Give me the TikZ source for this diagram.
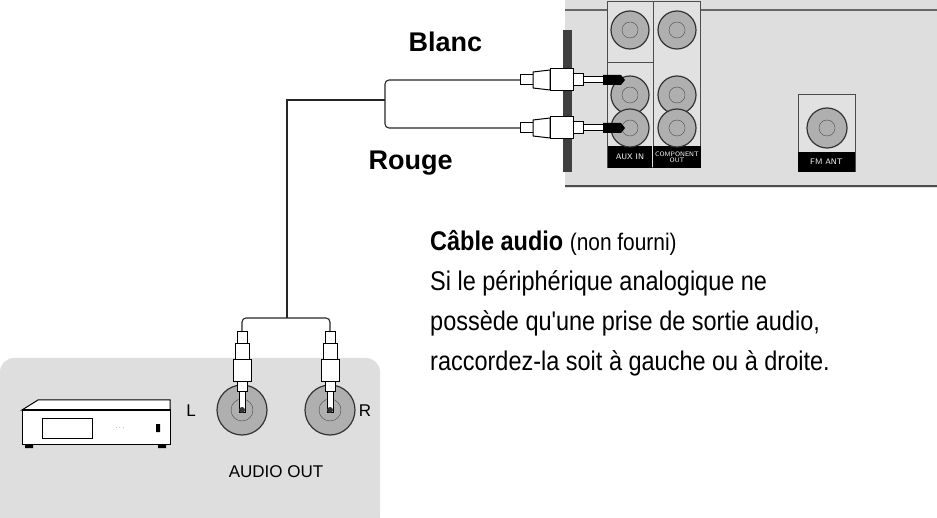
\documentclass[tikz,border=0pt]{standalone}
\usepackage{fontspec}
\setmainfont{Liberation Sans}
\newfontfamily\narrowfont[FakeStretch=0.87]{Liberation Sans}
\usetikzlibrary{positioning}

\definecolor{panelgray}{RGB}{222,222,222}
\definecolor{jackgray}{RGB}{175,175,175}
\tikzset{
  cable/.style={line width=1.1pt, draw=black!85},
  jack/.style={circle, draw=black!80, line width=1.2pt, fill=jackgray, minimum size=#1},
  tag/.style={fill=black, text=white, font=\sffamily\fontsize{8}{8}\selectfont, inner sep=2pt},
  plugpart/.style={draw=black, line width=1pt, fill=white},
}
% horizontal plug, tip pointing right, tip at (#1,#2)
\newcommand{\hplug}[2]{%
  \draw[plugpart] (#1-105,#2-5) rectangle (#1-92,#2+5);
  \draw[plugpart] (#1-92,#2-8) -- (#1-75,#2-10) -- (#1-75,#2+10) -- (#1-92,#2+8) -- cycle;
  \draw[plugpart] (#1-75,#2-11) rectangle (#1-52,#2+11);
  \draw[plugpart] (#1-52,#2-6) rectangle (#1-42,#2+6);
  \draw[plugpart] (#1-42,#2-3) rectangle (#1-22,#2+3);
  \fill[black] (#1-22,#2-5) -- (#1-4,#2-5) -- (#1,#2) -- (#1-4,#2+5) -- (#1-22,#2+5) -- cycle;}
% vertical plug, tip pointing down, tip at (#1,#2)
\newcommand{\vplug}[2]{%
  \draw[plugpart] (#1-5,#2-80) rectangle (#1+5,#2-68);
  \draw[plugpart] (#1-7,#2-68) rectangle (#1+7,#2-52);
  \draw[plugpart] (#1-9,#2-52) rectangle (#1+9,#2-30);
  \draw[plugpart] (#1-5,#2-30) rectangle (#1+5,#2-20);
  \draw[plugpart] (#1-3,#2-20) rectangle (#1+3,#2);}

\begin{document}
\begin{tikzpicture}[x=1pt,y=-1pt]
\useasboundingbox (0,0) rectangle (937,518);

% receiver back panel
\fill[panelgray] (565,0) rectangle (937,188);
\draw[line width=1.5pt, black!60] (565,10) -- (937,10);
\draw[line width=2pt, black!70] (565,186) -- (937,186);
\fill[black!75] (563,30) rectangle (572,172);
\draw[line width=1pt, black!70, fill=panelgray!90] (607,2) rectangle (700,168);
\draw[black!70] (653,2) -- (653,168) (607,62) -- (653,62);
\node[tag, minimum width=44pt, minimum height=22pt] (auxin) at (630,157) {AUX IN};
\node[tag, minimum width=46pt, minimum height=22pt, align=center, font=\sffamily\fontsize{6.5}{6.5}\selectfont] (compout) at (677,157) {COMPONENT\\OUT};
\foreach \y/\n in {30/a,95/b,128/c} {
  \node[jack=38pt] (jl\n) at (630,\y) {};
  \node[circle, draw=black!70, minimum size=16pt] at (jl\n) {};
  \node[jack=38pt] (jr\n) at (677,\y) {};
  \node[circle, draw=black!70, minimum size=16pt] at (jr\n) {};
}
\draw[line width=1pt, black!70, fill=panelgray!90] (798,95) rectangle (855,172);
\node[jack=40pt] (fmjack) at (827,128) {};
\node[circle, draw=black!70, minimum size=16pt] at (fmjack) {};
\node[tag, minimum width=57pt, minimum height=20pt] (fmant) at (826.5,162) {FM ANT};

% source device panel
\fill[panelgray, rounded corners=14pt] (0,358) rectangle (380,530);
\fill[panelgray] (0,500) rectangle (380,518);
\draw[line width=1pt, fill=white] (22,410) -- (38,400) -- (170,400) -- (170,410) -- cycle;
\draw[line width=1pt, fill=white] (22,410) rectangle (170,444);
\draw[line width=0.8pt] (42,418) rectangle (92,438);
\node[font=\fontsize{6}{6}\selectfont] (dots) at (120,428) {$\cdots$};
\fill[black] (25,444) rectangle (33,448) (158,444) rectangle (166,448) (156,424) rectangle (160,432);

\node[jack=50pt] (jackL) at (242,410) {};
\node[circle, draw=black!70, minimum size=22pt] at (jackL) {};
\node[jack=50pt] (jackR) at (330,410) {};
\node[circle, draw=black!70, minimum size=22pt] at (jackR) {};
\node[font=\fontsize{17}{17}\selectfont] (labL) at (191,411) {L};
\node[font=\fontsize{17}{17}\selectfont] (labR) at (365,411) {R};
\node[font=\fontsize{17}{17}\selectfont] (audioout) at (276,472) {AUDIO OUT};

% cables
\coordinate (tipW) at (625,80);
\coordinate (tipR) at (625,128);
\coordinate (splitTop) at (385,80);
\coordinate (splitBot) at (385,128);
\coordinate (trunkTop) at (287,100);
\coordinate (trunkBot) at (287,318);
\draw[cable, rounded corners=4pt] (520,80) -- (splitTop) -- (splitBot) -- (520,128);
\draw[cable] (385,100) -- (trunkTop) -- (trunkBot);
\draw[cable, rounded corners=4pt] (242,332) -- (242,318) -- (330,318) -- (330,332);
\hplug{625}{80}
\hplug{625}{128}
\vplug{242}{412}
\vplug{330}{412}
\fill[black!80] (jackL) circle (3pt) (jackR) circle (3pt);

% labels
\node[font=\fontsize{27}{27}\selectfont\bfseries, anchor=west] (blanc) at (405,42) {Blanc};
\node[font=\fontsize{27}{27}\selectfont\bfseries, anchor=west] (rouge) at (365,163) {Rouge};
\node[font=\narrowfont\fontsize{27}{40}\selectfont, anchor=north west, align=left, inner sep=0pt] (note) at (430,230)
  {{\bfseries Câble audio} \fontsize{24}{40}\selectfont(non fourni)\\
   Si le périphérique analogique ne\\
   possède qu'une prise de sortie audio,\\
   raccordez-la soit à gauche ou à droite.};
\end{tikzpicture}
\end{document}
